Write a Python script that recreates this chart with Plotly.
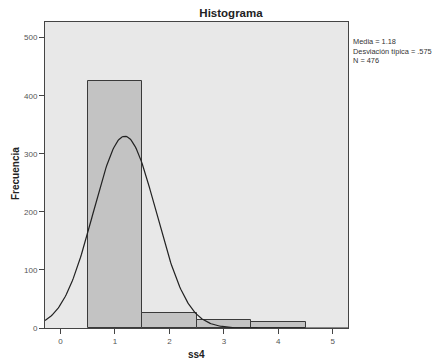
import numpy as np
import plotly.graph_objects as go

# Data
bin_centers = [1, 2, 3, 4]
frequencies = [426, 25, 14, 11]
stat_mean = 1.18
stat_sd = 0.575
stat_n = 476
x_ticks = [0, 1, 2, 3, 4, 5]
y_ticks = [0, 100, 200, 300, 400, 500]
stats_lines = ["Media = 1.18", "Desviación típica = .575", "N = 476"]

FONT = "Liberation Sans, Arial, sans-serif"
W, H = 444, 359
L, R, T, B = 45, 348, 22, 328

fig = go.Figure()
fig.add_trace(go.Bar(
    x=bin_centers, y=frequencies, width=1.0,
    marker=dict(color="#c3c3c3", line=dict(color="#3a3a3a", width=1)),
    showlegend=False, hoverinfo="x+y",
))

# Fitted normal curve from the reported statistics
xs = np.linspace(-0.285, 5.28, 300)
ys = stat_n * 1.0 * np.exp(-0.5 * ((xs - stat_mean) / stat_sd) ** 2) / (stat_sd * np.sqrt(2 * np.pi))
fig.add_trace(go.Scatter(x=xs, y=ys, mode="lines",
                         line=dict(color="#222222", width=1.2),
                         showlegend=False, hoverinfo="skip"))

fig.update_layout(
    width=W, height=H,
    margin=dict(l=L, r=W - R, t=T, b=H - B),
    paper_bgcolor="white", plot_bgcolor="#e8e8e8",
    font=dict(family=FONT, size=8, color="#333333"),
    title=dict(text="<b>Histograma</b>", x=231 / W, xanchor="center",
               y=1 - 13 / H, yanchor="middle",
               font=dict(family=FONT, size=11.5, color="#222222")),
    bargap=0,
)
fig.update_xaxes(range=[-0.285, 5.28], tickvals=x_ticks, ticktext=[str(v) for v in x_ticks],
                 showgrid=False, zeroline=False, showline=True, linecolor="#444444",
                 linewidth=1, mirror=True, ticks="outside", ticklen=5, tickcolor="#444444",
                 tickfont=dict(size=8, color="#555555"))
fig.update_yaxes(range=[0, 527], tickvals=y_ticks, ticktext=[str(v) for v in y_ticks],
                 showgrid=False, zeroline=False, showline=True, linecolor="#444444",
                 linewidth=1, mirror=True, ticks="outside", ticklen=5, tickcolor="#444444",
                 tickfont=dict(size=8, color="#555555"))

# Axis titles
fig.add_annotation(text="<b>ss4</b>", xref="paper", yref="paper",
                   x=(196.5 - L) / (R - L), y=(B - 354) / (B - T),
                   xanchor="center", yanchor="middle", showarrow=False,
                   font=dict(family=FONT, size=10, color="#222222"))
fig.add_annotation(text="<b>Frecuencia</b>", xref="paper", yref="paper",
                   x=(15 - L) / (R - L), y=(B - 174) / (B - T), textangle=-90,
                   xanchor="center", yanchor="middle", showarrow=False,
                   font=dict(family=FONT, size=10, color="#222222"))

# Statistics box text (single block)
fig.add_annotation(
    text="<br>".join(stats_lines), xref="paper", yref="paper",
    x=(351 - L) / (R - L), y=(B - 35) / (B - T),
    xanchor="left", yanchor="top", align="left", showarrow=False,
    font=dict(family=FONT, size=7.4, color="#333333"),
)

fig.write_html("out.html", config={"displayModeBar": False},
               post_script="document.body.style.margin='0';document.body.style.overflow='hidden';")
